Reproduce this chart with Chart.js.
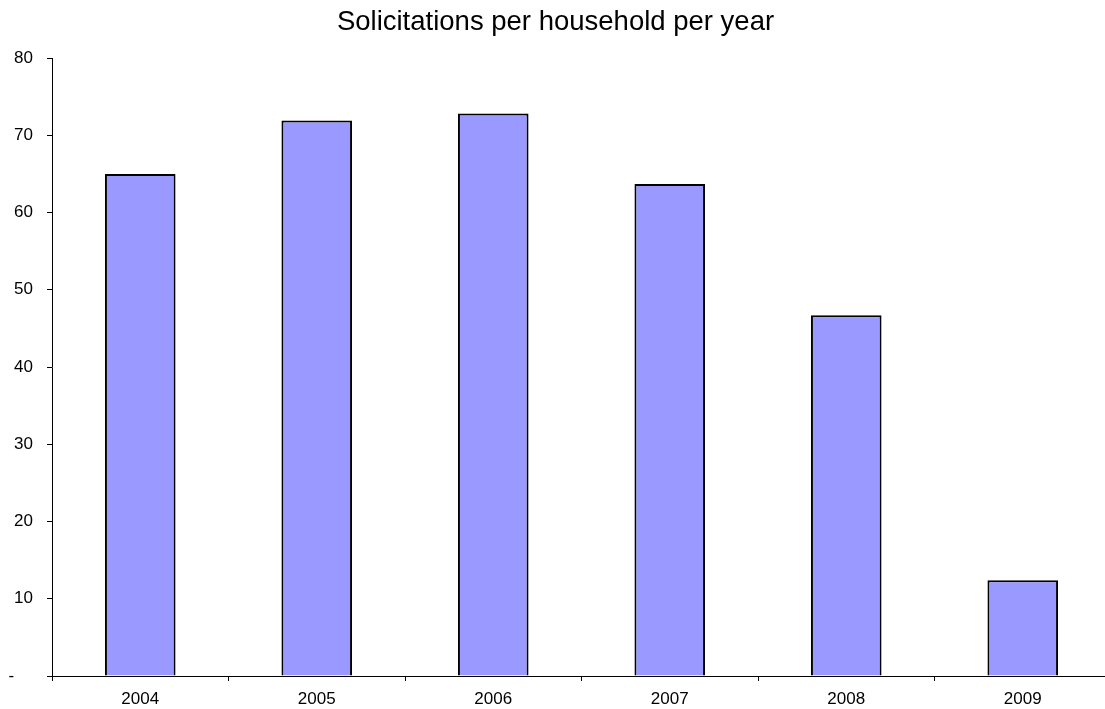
<!DOCTYPE html>
<html>
<head>
<meta charset="utf-8">
<script src="https://cdn.jsdelivr.net/npm/chart.js@4"></script>
<style>
    html, body { margin: 0; padding: 0; background: #fff; overflow: hidden; }
</style>
</head>
<body>
<canvas id="solicitChart" width="1115" height="709"></canvas>
<script>
// ======================
// Data
// ======================
const years = ["2004", "2005", "2006", "2007", "2008", "2009"];
const solicitations = [65.0, 71.9, 72.8, 63.7, 46.7, 12.4];
const yTickLabels = ["-\u2007\u2007", "10", "20", "30", "40", "50", "60", "70", "80"];

const FONT = "'Liberation Sans', Arial, sans-serif";

document.addEventListener("DOMContentLoaded", () => {
    const ctx = document.getElementById("solicitChart").getContext("2d");

    new Chart(ctx, {
        type: "bar",
        data: {
            labels: years,
            datasets: [{
                label: "Solicitations",
                data: solicitations,
                backgroundColor: "#9999FF",
                borderColor: "#000000",
                borderWidth: 2,
                barPercentage: 0.4,
                categoryPercentage: 1.0
            }]
        },
        options: {
            responsive: false,
            animation: false,
            devicePixelRatio: 1,
            layout: {
                padding: { left: 0, right: 4, top: 0, bottom: 0 }
            },
            plugins: {
                legend: { display: false },
                tooltip: { enabled: false },
                title: {
                    display: true,
                    text: "Solicitations per household per year",
                    color: "#000",
                    font: { family: FONT, size: 27.5, weight: "normal" },
                    padding: { top: 6, bottom: 19 }
                }
            },
            scales: {
                x: {
                    // fixed axis band so the plot bottom sits where the original does
                    afterFit: (scale) => { scale.height = 33; },
                    grid: {
                        display: true,
                        drawOnChartArea: false,
                        drawTicks: true,
                        tickLength: 5,
                        color: "#000"
                    },
                    border: { display: true, color: "#000", width: 1 },
                    ticks: {
                        color: "#000",
                        padding: 8,
                        maxRotation: 0,
                        font: { family: FONT, size: 17 }
                    }
                },
                y: {
                    min: 0,
                    max: 80,
                    afterFit: (scale) => { scale.width = 52; },
                    grid: {
                        display: true,
                        drawOnChartArea: false,
                        drawTicks: true,
                        tickLength: 5,
                        color: "#000"
                    },
                    border: { display: true, color: "#000", width: 1 },
                    ticks: {
                        stepSize: 10,
                        color: "#000",
                        padding: 14,
                        font: { family: FONT, size: 17 },
                        callback: (value) => yTickLabels[value / 10]
                    }
                }
            }
        }
    });
});
</script>
</body>
</html>
